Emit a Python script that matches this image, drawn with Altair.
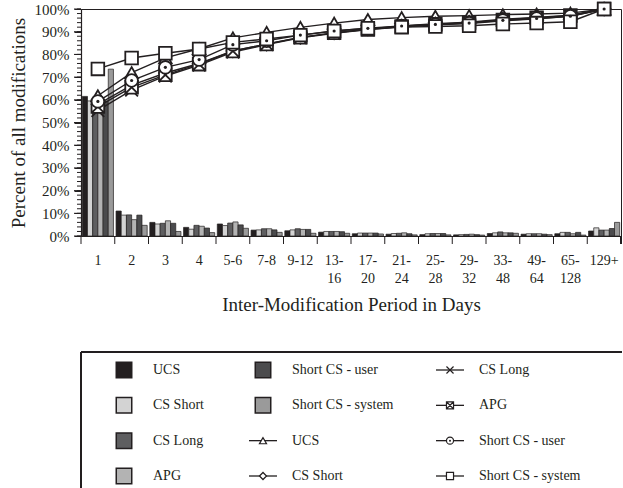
import altair as alt
import pandas as pd

# Inter-modification periods (days)
periods = ["1", "2", "3", "4", "5-6", "7-8", "9-12", "13-16", "17-20", "21-24",
           "25-28", "29-32", "33-48", "49-64", "65-128", "129+"]

series_names = ["UCS", "CS Short", "CS Long", "APG", "Short CS - user", "Short CS - system"]
series_fills = ["#231f20", "#d3d3d3", "#5e5e60", "#b3b3b3", "#4b4b4d", "#9a9a9a"]

# Share of all modifications falling in each period (%)
ucs_pct = [61.5, 11.0, 6.0, 3.8, 5.3, 2.6, 2.3, 1.7, 1.0, 0.8, 0.6, 0.5, 1.1, 0.8, 1.0, 2.2]
cs_short_pct = [59.5, 9.2, 5.3, 3.0, 4.6, 2.7, 2.7, 2.0, 1.3, 1.1, 1.0, 0.6, 1.4, 1.0, 1.6, 3.6]
cs_long_pct = [56.0, 9.3, 5.6, 4.7, 5.7, 3.2, 3.2, 2.0, 1.3, 1.2, 1.1, 0.7, 1.8, 1.0, 1.6, 2.6]
apg_pct = [58.0, 7.2, 6.7, 4.3, 6.2, 3.2, 2.9, 2.0, 1.3, 1.4, 1.1, 0.8, 1.4, 1.0, 1.0, 2.6]
short_user_pct = [59.5, 9.2, 5.6, 3.5, 4.9, 2.7, 2.9, 1.9, 1.3, 1.0, 1.1, 0.6, 1.4, 0.8, 1.6, 3.3]
short_system_pct = [73.5, 4.7, 2.0, 1.5, 3.4, 1.6, 1.2, 1.2, 0.9, 0.5, 0.5, 0.4, 1.2, 0.6, 0.4, 6.0]

# Cumulative share of all modifications (%)
ucs_cum = [61.8, 72.0, 78.5, 82.5, 87.3, 89.7, 91.9, 93.8, 95.4, 96.2, 96.8, 97.1, 97.5, 97.8, 98.2, 100.0]
cs_short_cum = [58.0, 66.5, 71.8, 76.0, 81.5, 84.5, 87.5, 89.5, 91.2, 92.5, 93.5, 94.2, 95.5, 96.3, 97.3, 100.0]
cs_long_cum = [55.3, 64.3, 70.5, 75.3, 81.0, 84.3, 87.3, 89.3, 91.0, 92.0, 93.0, 93.6, 94.8, 95.7, 96.8, 100.0]
apg_cum = [57.0, 65.5, 71.0, 75.7, 81.5, 84.6, 87.5, 89.5, 91.0, 92.3, 93.3, 94.0, 95.2, 96.2, 97.1, 100.0]
short_user_cum = [59.3, 68.5, 74.3, 77.7, 84.3, 86.0, 88.5, 90.3, 91.5, 92.5, 93.2, 93.8, 95.0, 95.8, 96.8, 100.0]
short_system_cum = [73.6, 78.4, 80.5, 82.4, 85.3, 86.8, 88.5, 90.3, 91.5, 92.0, 92.3, 92.6, 93.4, 93.8, 94.4, 100.0]

# Marker for each cumulative series
series_shapes = [
    "triangle-up",
    "diamond",
    "M-1,-1L1,1M-1,1L1,-1",
    "M-1,-1H1V1H-1ZM-1,-1L1,1M-1,1L1,-1",
    "circle",
    "square",
]

y_major = list(range(0, 101, 10))
y_minor = list(range(0, 101, 2))

pct_lists = [ucs_pct, cs_short_pct, cs_long_pct, apg_pct, short_user_pct, short_system_pct]
cum_lists = [ucs_cum, cs_short_cum, cs_long_cum, apg_cum, short_user_cum, short_system_cum]

bars_df = pd.DataFrame(
    [{"period": p, "series": s, "pct": v}
     for s, vals in zip(series_names, pct_lists) for p, v in zip(periods, vals)]
)
cum_df = pd.DataFrame(
    [{"period": p, "series": s, "pct": v}
     for s, vals in zip(series_names, cum_lists) for p, v in zip(periods, vals)]
)
minor_df = pd.DataFrame({"pct": y_minor})
major_df = pd.DataFrame({"pct": y_major})
period_df = pd.DataFrame({"period": periods})

SERIF = "Liberation Serif"
INK = "#231f20"
PLOT_W, PLOT_H = 540, 227

fill_scale = alt.Scale(domain=series_names, range=series_fills)
shape_scale = alt.Scale(domain=series_names, range=series_shapes)
x_scale = alt.Scale(paddingInner=0, paddingOuter=0)
y_scale = alt.Scale(domain=[0, 100], nice=False)

split_label = ("length(datum.value) > 4 ? [slice(datum.value, 0, indexof(datum.value, '-') + 1), "
               "slice(datum.value, indexof(datum.value, '-') + 1)] : datum.value")

x_axis = alt.Axis(title="Inter-Modification Period in Days", labelAngle=0,
                  labelExpr=split_label, tickSize=8, tickOpacity=0, labelPadding=9,
                  labelLineHeight=18, labelFontSize=14, titlePadding=10)
y_axis = alt.Axis(title="Percent of all modifications", values=y_major, tickCount=11,
                  labelOverlap=False, labelExpr="datum.value + '%'", tickSize=7,
                  labelPadding=5, titlePadding=6, labelFontSize=15)

x_enc = alt.X("period:N", sort=periods, scale=x_scale, axis=x_axis)
y_enc = alt.Y("pct:Q", scale=y_scale, axis=y_axis)

bars = alt.Chart(bars_df).mark_bar(stroke=INK, strokeWidth=0.7).encode(
    x=x_enc,
    xOffset=alt.XOffset("series:N", sort=series_names,
                        scale=alt.Scale(paddingOuter=0.25, paddingInner=0)),
    y=y_enc,
    fill=alt.Fill("series:N", scale=fill_scale, legend=None),
)

# tick marks on the left axis: every 10% long, every 2% short
major_ticks = alt.Chart(major_df).mark_rule(color=INK, strokeWidth=1).encode(
    y=y_enc, x=alt.value(-7), x2=alt.value(0)
)
minor_ticks = alt.Chart(minor_df).mark_rule(color=INK, strokeWidth=1).encode(
    y=y_enc, x=alt.value(-4), x2=alt.value(0)
)

# x ticks on the period boundaries
period_ticks = alt.Chart(period_df).mark_rule(color=INK, strokeWidth=1).encode(
    x=alt.X("period:N", sort=periods, scale=x_scale, axis=x_axis, bandPosition=0),
    y=alt.value(PLOT_H), y2=alt.value(PLOT_H + 8),
)
end_tick = alt.Chart(period_df).mark_rule(color=INK, strokeWidth=1).encode(
    x=alt.value(PLOT_W), y=alt.value(PLOT_H), y2=alt.value(PLOT_H + 8)
)

lines = alt.Chart(cum_df).mark_line(color=INK, strokeWidth=1.4).encode(
    x=x_enc, y=y_enc, detail="series:N"
)

markers = alt.Chart(cum_df).mark_point(
    filled=True, fill="white", stroke=INK, strokeWidth=1.8, size=160, opacity=1
).encode(
    x=x_enc, y=y_enc,
    shape=alt.Shape("series:N", scale=shape_scale, legend=None),
)

dots = alt.Chart(cum_df).transform_filter(
    alt.datum.series == "Short CS - user"
).mark_point(filled=True, color=INK, size=10, shape="circle", opacity=1).encode(
    x=x_enc, y=y_enc
)

main = alt.layer(bars, major_ticks, minor_ticks, period_ticks, end_tick, lines, markers, dots).properties(
    width=PLOT_W, height=PLOT_H, view=alt.ViewBackground(stroke=INK, strokeWidth=1)
)

# Legend: bar swatches then line symbols, filled column by column, four rows each
legend_kind = ["bar"] * 6 + ["line"] * 6
legend_series = series_names + series_names
legend_df = pd.DataFrame({"kind": legend_kind, "series": legend_series})

ly = alt.Y("row:Q", scale=alt.Scale(domain=[0, 3], range=[18, 124], zero=False, nice=False), axis=None)
SYM_X = 43
LEG_H = 136
LEG_COLS = [139, 187, 215]


def legend_column(col_index, col_width, with_frame=False):
    base = alt.Chart(legend_df).transform_window(
        idx="row_number()"
    ).transform_calculate(
        col="floor((datum.idx - 1) / 4)", row="(datum.idx - 1) % 4"
    ).transform_filter(alt.datum.col == col_index)

    swatches = base.transform_filter(alt.datum.kind == "bar").mark_square(
        size=240, stroke=INK, strokeWidth=1.5, opacity=1
    ).encode(x=alt.value(SYM_X), y=ly, fill=alt.Fill("series:N", scale=fill_scale, legend=None))

    seg = base.transform_filter(alt.datum.kind == "line").mark_rule(
        color=INK, strokeWidth=1.3
    ).encode(x=alt.value(SYM_X - 14), x2=alt.value(SYM_X + 14), y=ly)

    syms = base.transform_filter(alt.datum.kind == "line").mark_point(
        filled=True, fill="white", stroke=INK, strokeWidth=1.2, size=50, opacity=1
    ).encode(x=alt.value(SYM_X), y=ly,
             shape=alt.Shape("series:N", scale=shape_scale, legend=None))

    sym_dots = base.transform_filter(
        (alt.datum.kind == "line") & (alt.datum.series == "Short CS - user")
    ).mark_point(filled=True, color=INK, size=4, shape="circle", opacity=1).encode(
        x=alt.value(SYM_X), y=ly
    )

    labels = base.mark_text(
        align="left", baseline="middle", font=SERIF, fontSize=14, color=INK
    ).encode(x=alt.value(SYM_X + 29), y=ly, text="series:N")

    layers = [swatches, seg, syms, sym_dots, labels]
    if with_frame:
        frame_top = alt.Chart(legend_df).mark_rule(color=INK, strokeWidth=1.6).encode(
            x=alt.value(0), x2=alt.value(sum(LEG_COLS)), y=alt.value(0)
        )
        frame_left = alt.Chart(legend_df).mark_rule(color=INK, strokeWidth=1.6).encode(
            x=alt.value(0), y=alt.value(0), y2=alt.value(LEG_H)
        )
        layers = [frame_top, frame_left] + layers
    return alt.layer(*layers).properties(
        width=col_width, height=LEG_H,
        view=alt.ViewBackground(stroke="transparent", strokeWidth=0),
    )


legend = alt.hconcat(
    legend_column(0, LEG_COLS[0], with_frame=True),
    legend_column(1, LEG_COLS[1]),
    legend_column(2, LEG_COLS[2]),
    spacing=0,
    bounds="flush",
)

chart = alt.vconcat(main, legend, spacing=36).properties(
    padding={"left": 8, "top": -2, "right": 0, "bottom": 0}
).configure_axis(
    domainColor=INK, tickColor=INK, labelColor=INK, titleColor=INK,
    labelFont=SERIF, titleFont=SERIF, labelFontSize=15, titleFontSize=19,
    titleFontWeight="normal", grid=False, domainWidth=1.2, tickWidth=1,
)

chart.save("out.html", embed_options={"renderer": "svg", "actions": False})
